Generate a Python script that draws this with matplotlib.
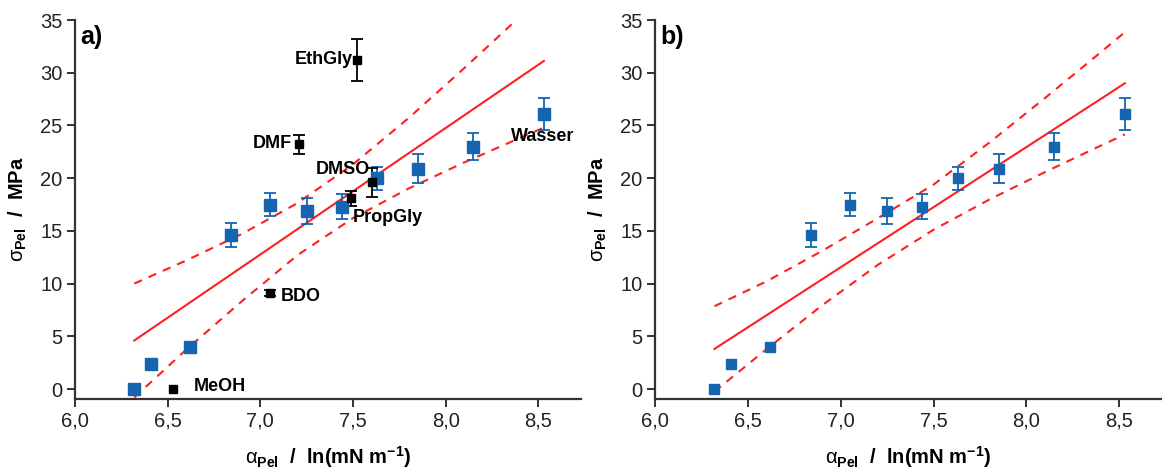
import numpy as np
import matplotlib
matplotlib.use("Agg")
import matplotlib.pyplot as plt
from matplotlib.ticker import FuncFormatter, MultipleLocator

plt.rcParams['font.family'] = ['Liberation Sans', 'DejaVu Sans']
plt.rcParams['mathtext.fontset'] = 'custom'
plt.rcParams['mathtext.rm'] = 'Liberation Sans'
plt.rcParams['mathtext.it'] = 'Liberation Sans'
plt.rcParams['mathtext.bf'] = 'Liberation Sans:bold'

# Daten: blaue Messpunkte (Ethanol/Wasser-Reihe)
alpha_blue = [6.32, 6.41, 6.62, 6.84, 7.05, 7.25, 7.44, 7.63, 7.85, 8.15, 8.53]
sigma_blue = [0.0, 2.4, 4.0, 14.6, 17.5, 16.9, 17.3, 20.0, 20.9, 23.0, 26.1]
err_blue = [np.nan, np.nan, np.nan, 1.1, 1.05, 1.25, 1.2, 1.1, 1.4, 1.25, 1.5]

# Lösungsmittel (schwarz)
solv_names = ['EthGly', 'DMF', 'DMSO', 'PropGly', 'BDO', 'MeOH']
alpha_solv = [7.52, 7.21, 7.60, 7.49, 7.05, 6.53]
sigma_solv = [31.2, 23.2, 19.6, 18.1, 9.1, 0.0]
err_solv = [2.0, 0.9, 1.4, 0.7, 0.3, np.nan]
label_x = [7.50, 7.17, 7.30, 7.50, 7.11, 6.64]
label_y = [31.3, 23.25, 20.8, 16.3, 8.8, 0.2]
label_ha = ['right', 'right', 'left', 'left', 'left', 'left']

# Fitgeraden und Konfidenzbänder
fit_x = [6.32, 6.6, 6.9, 7.2, 7.5, 7.8, 8.1, 8.4, 8.53]
fit_a = [4.6, 7.96, 11.56, 15.16, 18.76, 22.36, 25.96, 29.56, 31.12]
up_a = [10.0, 12.19, 14.70, 17.63, 21.31, 25.70, 30.43, 35.31, 37.45]
lo_a = [-0.8, 3.73, 8.32, 12.69, 16.21, 19.02, 21.49, 23.81, 24.79]
fit_b = [3.8, 6.99, 10.41, 13.83, 17.25, 20.67, 24.09, 27.51, 29.0]
up_b = [7.85, 10.21, 13.1, 16.2, 19.39, 23.37, 27.60, 31.94, 33.85]
lo_b = [-0.25, 3.77, 7.94, 11.78, 15.11, 17.97, 20.58, 23.08, 24.15]

BLUE = '#1565b0'
RED = '#ff1f1f'
AX = '#333333'

fig = plt.figure(figsize=(11.62, 4.68), dpi=100)
ax_a = fig.add_axes([0.0645, 0.1474, 0.4355, 0.8098])
ax_b = fig.add_axes([0.5637, 0.1474, 0.4363, 0.8098])


def style(ax, letter):
    ax.set_xlim(6.0, 8.73)
    ax.set_ylim(-0.95, 35)
    ax.xaxis.set_major_locator(MultipleLocator(0.5))
    ax.yaxis.set_major_locator(MultipleLocator(5))
    ax.xaxis.set_major_formatter(FuncFormatter(lambda v, p: f'{v:.1f}'.replace('.', ',')))
    for s in ['top', 'right']:
        ax.spines[s].set_visible(False)
    for s in ['left', 'bottom']:
        ax.spines[s].set_linewidth(1.6)
        ax.spines[s].set_color(AX)
    ax.tick_params(direction='out', length=6, width=1.4, color=AX,
                   labelsize=14.5, labelcolor='#222222', pad=3)
    ax.set_xlabel(r'$\alpha_{\mathbf{Pel}}$  /  ln(mN m$^{\mathbf{-1}}$)',
                  fontsize=14.5, fontweight='bold', labelpad=10)
    ax.set_ylabel(r'$\sigma_{\mathbf{Pel}}$  /  MPa',
                  fontsize=14.5, fontweight='bold', labelpad=8)
    ax.text(6.03, 33.4, letter, fontsize=18, fontweight='bold', va='center')
    ax.set_facecolor('none')


# Panel a
ax_a.plot(fit_x, fit_a, color=RED, lw=1.5)
ax_a.plot(fit_x, up_a, color=RED, lw=1.5, ls=(0, (4, 3.5)))
ax_a.plot(fit_x, lo_a, color=RED, lw=1.5, ls=(0, (4, 3.5)))
ax_a.errorbar(alpha_blue, sigma_blue, yerr=err_blue, fmt='s', ms=8,
              color=BLUE, ecolor=BLUE, elinewidth=1.3, capsize=4, capthick=1.3, zorder=3)
ax_a.errorbar(alpha_solv, sigma_solv, yerr=err_solv, fmt='s', ms=6,
              color='black', ecolor='black', elinewidth=1.3, capsize=4, capthick=1.3, zorder=3)
for name, tx, ty, ha in zip(solv_names, label_x, label_y, label_ha):
    ax_a.text(tx, ty, name, fontsize=13, fontweight='bold', ha=ha, va='center', zorder=4)
ax_a.text(8.35, 23.95, 'Wasser', fontsize=13, fontweight='bold', ha='left', va='center')
style(ax_a, 'a)')

# Panel b
ax_b.plot(fit_x, fit_b, color=RED, lw=1.5)
ax_b.plot(fit_x, up_b, color=RED, lw=1.5, ls=(0, (4, 3.5)))
ax_b.plot(fit_x, lo_b, color=RED, lw=1.5, ls=(0, (4, 3.5)))
ax_b.errorbar(alpha_blue, sigma_blue, yerr=err_blue, fmt='s', ms=7,
              color=BLUE, ecolor=BLUE, elinewidth=1.3, capsize=4, capthick=1.3, zorder=3)
style(ax_b, 'b)')

fig.savefig('out.png', dpi=100)
